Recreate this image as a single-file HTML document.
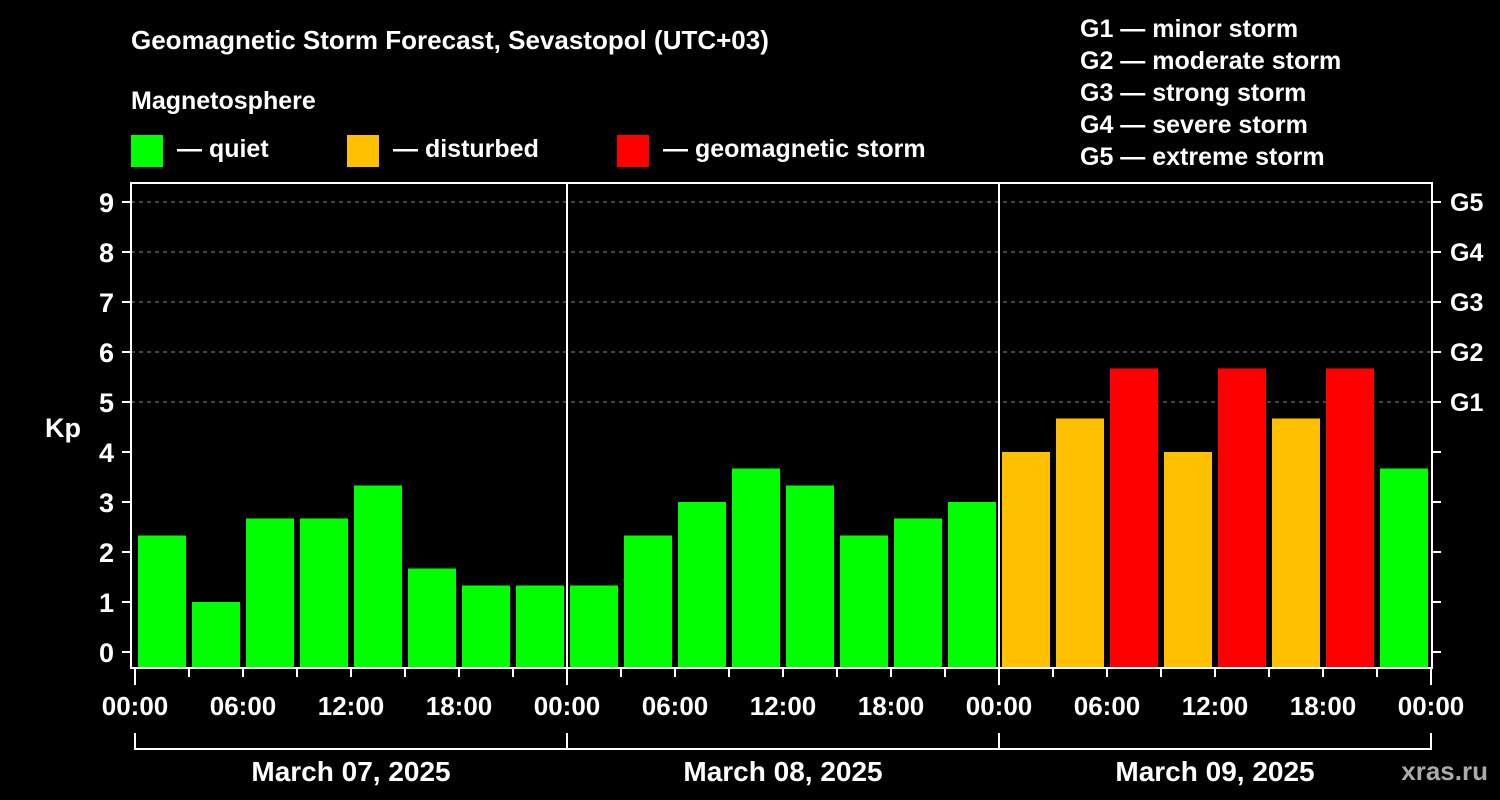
<!DOCTYPE html>
<html><head><meta charset="utf-8"><style>
html,body{margin:0;padding:0;background:#000;}
svg{display:block;font-family:"Liberation Sans",Arial,sans-serif;font-weight:bold;}
</style></head><body>
<svg id="c" width="1500" height="800" viewBox="0 0 1500 800">
<rect width="1500" height="800" fill="#000"/>
<text x="131" y="49" fill="#fff" font-size="26">Geomagnetic Storm Forecast, Sevastopol (UTC+03)</text>
<text x="131" y="109" fill="#fff" font-size="25">Magnetosphere</text>
<g><rect x="131" y="135" width="32" height="32" fill="#00ff00"/><text x="177" y="157" fill="#fff" font-size="25">— quiet</text></g>
<g><rect x="347" y="135" width="32" height="32" fill="#ffc000"/><text x="393" y="157" fill="#fff" font-size="25">— disturbed</text></g>
<g><rect x="617" y="135" width="32" height="32" fill="#ff0000"/><text x="663" y="157" fill="#fff" font-size="25">— geomagnetic storm</text></g>
<g fill="#fff" font-size="25">
<text x="1080" y="37">G1 — minor storm</text>
<text x="1080" y="69">G2 — moderate storm</text>
<text x="1080" y="101">G3 — strong storm</text>
<text x="1080" y="133">G4 — severe storm</text>
<text x="1080" y="165">G5 — extreme storm</text>
</g>
<text x="63" y="437" fill="#fff" font-size="27" text-anchor="middle">Kp</text>
<text x="1488" y="780" fill="#aaa" font-size="26" text-anchor="end">xras.ru</text>
<g id="grid"></g><g id="bars"></g><g id="axes"></g>
</svg>
<script>
const kpValues = [2.33,1.0,2.67,2.67,3.33,1.67,1.33,1.33, 1.33,2.33,3.0,3.67,3.33,2.33,2.67,3.0, 4.0,4.67,5.67,4.0,5.67,4.67,5.67,3.67];
const yTicks = [0,1,2,3,4,5,6,7,8,9];
const gLabels = ["G1","G2","G3","G4","G5"];
const gLevels = [5,6,7,8,9];
const timeLabels = ["00:00","06:00","12:00","18:00"];
const dayLabels = ["March 07, 2025","March 08, 2025","March 09, 2025"];

const NS="http://www.w3.org/2000/svg";
const L=131,R=1432,T=183,B=668,X0=135,DAYW=432;
const y=v=>652-v*50;
const x=h=>X0+h*(DAYW/24);
function mk(tag,attrs,parent,text){const e=document.createElementNS(NS,tag);for(const k in attrs)e.setAttribute(k,attrs[k]);if(text!==undefined)e.textContent=text;document.getElementById(parent).appendChild(e);return e;}
gLevels.forEach((v,i)=>{
  const g=mk('line',{x1:L,x2:R,y1:y(v),y2:y(v),stroke:'#888','stroke-dasharray':'4,4','stroke-width':1},'grid');
  
  
  const t=mk('text',{x:1450,y:y(v)+9,fill:'#fff','font-size':25},'axes',gLabels[i]);
  
  
});
kpValues.forEach((v,i)=>{
  const c=v>=5?'#ff0000':(v>=4?'#ffc000':'#00ff00');
  const r=mk('rect',{x:x(i*3)+3,y:y(v),width:48,height:B-1-y(v),fill:c},'bars');
  
  
});
// axes frame
mk('rect',{x:L,y:T,width:R-L,height:B-T,fill:'none',stroke:'#fff','stroke-width':2},'axes');
for(let d=1;d<dayLabels.length;d++){mk('line',{x1:x(d*24),x2:x(d*24),y1:T,y2:B,stroke:'#fff','stroke-width':2},'axes');}
yTicks.forEach(v=>{
  mk('line',{x1:L-9,x2:L,y1:y(v),y2:y(v),stroke:'#fff','stroke-width':2},'axes');
  mk('line',{x1:R,x2:R+9,y1:y(v),y2:y(v),stroke:'#fff','stroke-width':2},'axes');
  const t=mk('text',{x:114,y:y(v)+10,fill:'#fff','font-size':27,'text-anchor':'end'},'axes',String(v));
  
  
});
for(let h=0;h<=72;h+=3){
  const major=h%24===0;
  mk('line',{x1:x(h),x2:x(h),y1:B,y2:major?B+17:B+9,stroke:'#fff','stroke-width':2},'axes');
  if(h%6===0){
    const t=mk('text',{x:x(h),y:715,fill:'#fff','font-size':26,'text-anchor':'middle'},'axes',timeLabels[(h%24)/6]);
    
    
  }
}
mk('line',{x1:x(0),x2:x(72),y1:749,y2:749,stroke:'#fff','stroke-width':2},'axes');
for(let d=0;d<=dayLabels.length;d++){mk('line',{x1:x(d*24),x2:x(d*24),y1:733,y2:750,stroke:'#fff','stroke-width':2},'axes');}
dayLabels.forEach((s,d)=>{
  const t=mk('text',{x:x(d*24+12),y:781,fill:'#fff','font-size':28,'text-anchor':'middle'},'axes',s);
  
  
});
</script>
</body></html>
